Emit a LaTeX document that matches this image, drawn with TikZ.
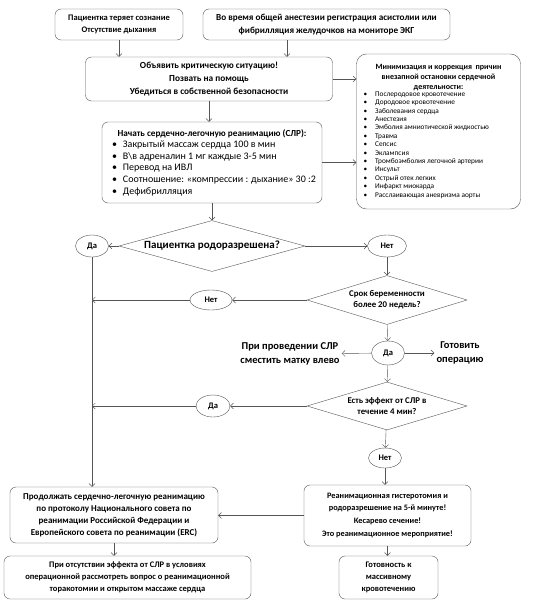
\documentclass[tikz,border=0pt]{standalone}
\usepackage{fontspec}
\setmainfont{Carlito}
\usetikzlibrary{shapes.geometric,arrows.meta}
\definecolor{linegray}{RGB}{85,85,85}

\begin{document}
\begin{tikzpicture}[x=1pt, y=-1pt, >={Straight Barb[length=3pt,width=6pt]},
  box/.style={draw=linegray, fill=white, rounded corners=6pt, align=center, inner sep=2pt,
    font=\fontsize{8.5}{12}\selectfont\bfseries},
  ask/.style={draw=linegray, diamond, inner sep=0pt, align=center,
    font=\fontsize{8.8}{11}\selectfont\bfseries},
  oval/.style={draw=linegray, ellipse, inner sep=0pt, font=\fontsize{8.5}{10}\selectfont\bfseries},
  note/.style={align=center, inner sep=2pt, font=\fontsize{10.5}{14}\selectfont\bfseries},
  link/.style={->, draw=linegray}]
  \useasboundingbox[fill=white] (0,0) rectangle (532,604);

  \node[box, minimum width=128, minimum height=31] (lost) at (119,24.5) {Пациентка теряет сознание\\ Отсутствие дыхания};
  \node[box, minimum width=247, minimum height=31, font=\fontsize{9.2}{12.5}\selectfont\bfseries] (monitor) at (326.5,24.5) {Во время общей анестезии регистрация асистолии или\\ фибрилляция желудочков на мониторе ЭКГ};
  \node[box, minimum width=247, minimum height=44, font=\fontsize{9.3}{13}\selectfont\bfseries] (alarm) at (209,79) {Объявить критическую ситуацию!\\ Позвать на помощь\\ Убедиться в собственной безопасности};
  \node[box, rounded corners=10pt, align=flush left, text width=158, minimum height=155, inner sep=3pt,
    font=\fontsize{7.3}{8.4}\selectfont] (causes) at (438.5,131.5) {%
    \parbox{\linewidth}{\centering\bfseries\fontsize{8}{9.7}\selectfont Минимизация и коррекция~ причин\\ внезапной остановки сердечной\\ деятельности:}\\
    \hspace*{4pt}\textbullet\hspace{8pt}Послеродовое кровотечение\\
    \hspace*{4pt}\textbullet\hspace{8pt}Дородовое кровотечение\\
    \hspace*{4pt}\textbullet\hspace{8pt}Заболевания сердца\\
    \hspace*{4pt}\textbullet\hspace{8pt}Анестезия\\
    \hspace*{4pt}\textbullet\hspace{8pt}Эмболия амниотической жидкостью\\
    \hspace*{4pt}\textbullet\hspace{8pt}Травма\\
    \hspace*{4pt}\textbullet\hspace{8pt}Сепсис\\
    \hspace*{4pt}\textbullet\hspace{8pt}Эклампсия\\
    \hspace*{4pt}\textbullet\hspace{8pt}Тромбоэмболия легочной артерии\\
    \hspace*{4pt}\textbullet\hspace{8pt}Инсульт\\
    \hspace*{4pt}\textbullet\hspace{8pt}Острый отек легких\\
    \hspace*{4pt}\textbullet\hspace{8pt}Инфаркт миокарда\\
    \hspace*{4pt}\textbullet\hspace{8pt}Расслаивающая аневризма аорты};
  \node[box, align=flush left, text width=212, minimum height=81, inner sep=4pt,
    font=\fontsize{10}{11.6}\selectfont] (cpr) at (212,162.5) {%
    \makebox[\linewidth]{\bfseries\fontsize{9.2}{12}\selectfont Начать сердечно-легочную реанимацию (СЛР):}\\
    \hspace*{6pt}\textbullet\hspace{6pt}Закрытый массаж сердца 100 в мин\\
    \hspace*{6pt}\textbullet\hspace{6pt}В\textbackslash в адреналин 1 мг каждые 3-5 мин\\
    \hspace*{6pt}\textbullet\hspace{6pt}Перевод на ИВЛ\\
    \hspace*{6pt}\textbullet\hspace{6pt}Соотношение: «компрессии : дыхание» 30 :2\\
    \hspace*{6pt}\textbullet\hspace{6pt}Дефибрилляция};

  \node[ask, aspect=3.65, minimum width=186, minimum height=51, font=\fontsize{11}{13}\selectfont\bfseries] (born) at (212,246) {Пациентка родоразрешена?};
  \node[oval, minimum width=33, minimum height=22] (yes1) at (92,246) {Да};
  \node[oval, minimum width=39, minimum height=22] (no1) at (387,246) {Нет};
  \node[ask, aspect=3.27, minimum width=160, minimum height=49] (term) at (387,300) {Срок беременности\\ более 20 недель?};
  \node[oval, minimum width=42, minimum height=20] (no2) at (211,300) {Нет};
  \node[oval, minimum width=33, minimum height=24] (yes2) at (388,353) {Да};
  \node[note] (tilt) at (290,354) {При проведении СЛР\\ сместить матку влево};
  \node[note] (prep) at (460,353) {Готовить\\ операцию};
  \node[ask, aspect=3.33, minimum width=160, minimum height=48] (effect) at (387,406) {Есть эффект от СЛР в\\ течение 4 мин?};
  \node[oval, minimum width=34, minimum height=22] (yes3) at (213,406) {Да};
  \node[oval, minimum width=33, minimum height=20] (no3) at (385,458) {Нет};

  \node[box, minimum width=167, minimum height=61, font=\fontsize{8.3}{12}\selectfont\bfseries] (hyst) at (387.5,515.5) {Реанимационная гистеротомия и\\ родоразрешение на 5-й минуте!\\[1pt] Кесарево сечение!\\[1pt] Это реанимационное мероприятие!};
  \node[box, minimum width=208, minimum height=56, font=\fontsize{9}{12}\selectfont\bfseries] (cont) at (114,515) {Продолжать сердечно-легочную реанимацию\\ по протоколу Национального совета по\\ реанимации Российской Федерации и\\ Европейского совета по реанимации (ERC)};
  \node[box, minimum width=247, minimum height=43] (thor) at (127.5,577.5) {При отсутствии эффекта от СЛР в условиях\\ операционной рассмотреть вопрос о реанимационной\\ торакотомии и открытом массаже сердца};
  \node[box, minimum width=99, minimum height=43] (blood) at (388.5,577.5) {Готовность к\\ массивному\\ кровотечению};

  \draw[link] (lost) -- (lost |- alarm.north);
  \draw[link] ([xshift=-39.5pt]monitor.south) -- ([xshift=-39.5pt]monitor.south |- alarm.north);
  \draw[link] (alarm) -- (alarm -| causes.west);
  \draw[link] (cpr) -- (cpr -| causes.west);
  \draw[link] (alarm) -- (alarm |- cpr.north);
  \draw[link] (cpr) -- (born);
  \draw[link] (born) -- (yes1);
  \draw[link] (born) -- (no1);
  \draw[link] (no1) -- (term);
  \draw[link] (term) -- (no2);
  \draw[link] (no2) -- (no2 -| yes1);
  \draw[link] (term) -- (yes2);
  \draw[link] (yes2) -- (tilt);
  \draw[link] (yes2) -- (prep);
  \draw[link] (yes2) -- (effect);
  \draw[link] (effect) -- (yes3);
  \draw[link] (yes3) -- (yes3 -| yes1);
  \draw[link] (effect) -- (no3);
  \draw[link] (no3) -- (no3 |- hyst.north);
  \draw[link] (yes1) -- (yes1 |- cont.north);
  \draw[link] (hyst) -- (hyst -| cont.east);
  \draw[link] (cont) -- (cont |- thor.north);
  \draw[link] (hyst) -- (hyst |- blood.north);
\end{tikzpicture}
\end{document}
